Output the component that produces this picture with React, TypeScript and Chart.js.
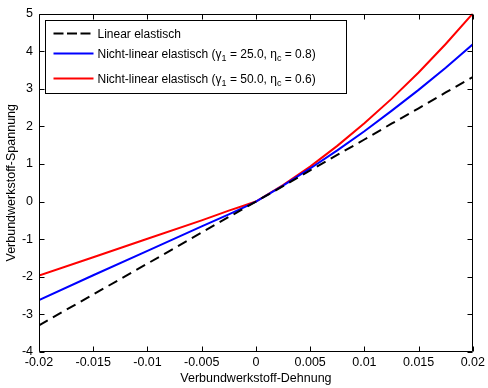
import { useEffect, useRef } from 'react';
import { Chart, registerables } from 'chart.js';

Chart.register(...registerables);

// ---- data ----
const strain = [-0.02, -0.015, -0.01, -0.005, -0.0025, -0.001, 0, 0.0025, 0.005, 0.0075, 0.01, 0.0125, 0.015, 0.0175, 0.02];
const linearStress = [-3.29, -2.47, -1.65, -0.82, -0.41, -0.165, 0, 0.41, 0.83, 1.24, 1.65, 2.07, 2.48, 2.9, 3.31];
const nl25Stress = [-2.62, -1.96, -1.31, -0.66, -0.34, -0.14, 0, 0.426, 0.88, 1.36, 1.87, 2.41, 2.97, 3.56, 4.18];
const nl50Stress = [-1.97, -1.48, -0.99, -0.5, -0.24, -0.1, 0, 0.44, 0.93, 1.48, 2.08, 2.73, 3.43, 4.19, 5.0];

const xTickValues = [-0.02, -0.015, -0.01, -0.005, 0, 0.005, 0.01, 0.015, 0.02];
const yTickValues = [-4, -3, -2, -1, 0, 1, 2, 3, 4, 5];

const seriesLabels = [
  'Linear elastisch',
  'Nicht-linear elastisch (γ1 = 25.0, ηc = 0.8)',
  'Nicht-linear elastisch (γ1 = 50.0, ηc = 0.6)',
];
// legend text split into [text, isSubscript] parts
const legendParts: [string, boolean][][] = [
  [['Linear elastisch', false]],
  [['Nicht-linear elastisch (γ', false], ['1', true], [' = 25.0, η', false], ['c', true], [' = 0.8)', false]],
  [['Nicht-linear elastisch (γ', false], ['1', true], [' = 50.0, η', false], ['c', true], [' = 0.6)', false]],
];
const seriesColors = ['#000000', '#0000ff', '#ff0000'];
const xTitle = 'Verbundwerkstoff-Dehnung';
const yTitle = 'Verbundwerkstoff-Spannung';

const FONT_FAMILY = '"Liberation Sans", Arial, Helvetica, sans-serif';

const framePlugin = {
  id: 'matlabFrame',
  afterDatasetsDraw(chart: any) {
    const { ctx, chartArea: a, scales } = chart;
    const xs = scales.x;
    const ys = scales.y;
    ctx.save();
    ctx.strokeStyle = '#000';
    ctx.lineWidth = 1;
    ctx.setLineDash([]);
    const L = Math.round(a.left) + 0.5;
    const R = Math.round(a.right) - 0.5;
    const T = Math.round(a.top) + 0.5;
    const B = Math.round(a.bottom) - 0.5;
    const tl = 5;
    ctx.beginPath();
    ctx.rect(L, T, R - L, B - T);
    xTickValues.forEach((v) => {
      const px = Math.round(xs.getPixelForValue(v)) + 0.5;
      ctx.moveTo(px, B);
      ctx.lineTo(px, B - tl);
      ctx.moveTo(px, T);
      ctx.lineTo(px, T + tl);
    });
    yTickValues.forEach((v) => {
      const py = Math.round(ys.getPixelForValue(v)) + 0.5;
      ctx.moveTo(L, py);
      ctx.lineTo(L + tl, py);
      ctx.moveTo(R, py);
      ctx.lineTo(R - tl, py);
    });
    ctx.stroke();

    // legend box
    const bx = Math.round(a.left) + 6.5;
    const by = Math.round(a.top) + 6.5;
    const bw = 301;
    const bh = 73;
    ctx.fillStyle = '#fff';
    ctx.fillRect(bx, by, bw, bh);
    ctx.strokeRect(bx, by, bw, bh);
    const rowOffsets = [12, 32.7, 57.7];
    const datasets = chart.data.datasets;
    legendParts.forEach((parts, i) => {
      const ds = datasets[i];
      const ly = Math.round(by + rowOffsets[i]) + 0.5;
      ctx.beginPath();
      ctx.strokeStyle = ds.borderColor;
      ctx.lineWidth = 2;
      ctx.setLineDash(i === 0 ? [10, 3.5] : []);
      ctx.moveTo(bx + 8, ly);
      ctx.lineTo(bx + 48, ly);
      ctx.stroke();
      ctx.setLineDash([]);
      let tx = bx + 52;
      const base = ly + 4.3;
      ctx.fillStyle = '#000';
      ctx.textBaseline = 'alphabetic';
      ctx.textAlign = 'left';
      parts.forEach(([t, sub]) => {
        ctx.font = (sub ? '9px ' : '12px ') + FONT_FAMILY;
        ctx.fillText(t, tx, sub ? base + 3.5 : base);
        tx += ctx.measureText(t).width;
      });
    });
    ctx.restore();
  },
};

export default function App() {
  const ref = useRef<HTMLCanvasElement | null>(null);

  useEffect(() => {
    document.body.style.margin = '0';
    const canvas = ref.current;
    if (!canvas) return;
    const tickFont = { family: FONT_FAMILY, size: 12.5 };
    const mk = (vals: number[]) => strain.map((x, i) => ({ x, y: vals[i] }));
    const chart = new Chart(canvas, {
      type: 'line',
      data: {
        datasets: [
          {
            label: seriesLabels[0],
            data: mk(linearStress),
            borderColor: seriesColors[0],
            borderWidth: 2,
            borderDash: [10, 6],
            pointRadius: 0,
            fill: false,
          },
          {
            label: seriesLabels[1],
            data: mk(nl25Stress),
            borderColor: seriesColors[1],
            borderWidth: 2,
            pointRadius: 0,
            fill: false,
          },
          {
            label: seriesLabels[2],
            data: mk(nl50Stress),
            borderColor: seriesColors[2],
            borderWidth: 2,
            pointRadius: 0,
            fill: false,
          },
        ],
      },
      options: {
        responsive: false,
        animation: false,
        events: [],
        layout: { padding: { left: 0, top: 11, right: 15, bottom: 0 } },
        plugins: {
          legend: { display: false },
          tooltip: { enabled: false },
        },
        scales: {
          x: {
            type: 'linear',
            min: -0.02,
            max: 0.02,
            afterBuildTicks: (s: any) => {
              s.ticks = xTickValues.map((value) => ({ value }));
            },
            afterFit: (s: any) => {
              s.height = 36;
            },
            grid: { display: false, drawTicks: false },
            border: { display: false },
            ticks: {
              autoSkip: false,
              maxRotation: 0,
              color: '#000',
              font: tickFont,
              padding: 3,
              callback: (v: any) => String(Number(Number(v).toFixed(3))),
            },
            title: {
              display: true,
              text: xTitle,
              color: '#000',
              font: tickFont,
              padding: { top: 0, bottom: 2 },
            },
          },
          y: {
            type: 'linear',
            min: -4,
            max: 5,
            afterBuildTicks: (s: any) => {
              s.ticks = yTickValues.map((value) => ({ value }));
            },
            afterFit: (s: any) => {
              s.width = 39;
            },
            grid: { display: false, drawTicks: false },
            border: { display: false },
            ticks: {
              autoSkip: false,
              color: '#000',
              font: tickFont,
              padding: 6,
              callback: (v: any) => String(v),
            },
            title: {
              display: true,
              text: yTitle,
              color: '#000',
              font: tickFont,
              padding: { top: 4, bottom: 0 },
            },
          },
        },
      },
      plugins: [framePlugin],
    } as any);
    return () => chart.destroy();
  }, []);

  return (
    <div style={{ position: 'absolute', left: 0, top: 0, width: 488, height: 388, background: '#fff' }}>
      <canvas ref={ref} width={488} height={388} style={{ display: 'block' }} />
    </div>
  );
}
